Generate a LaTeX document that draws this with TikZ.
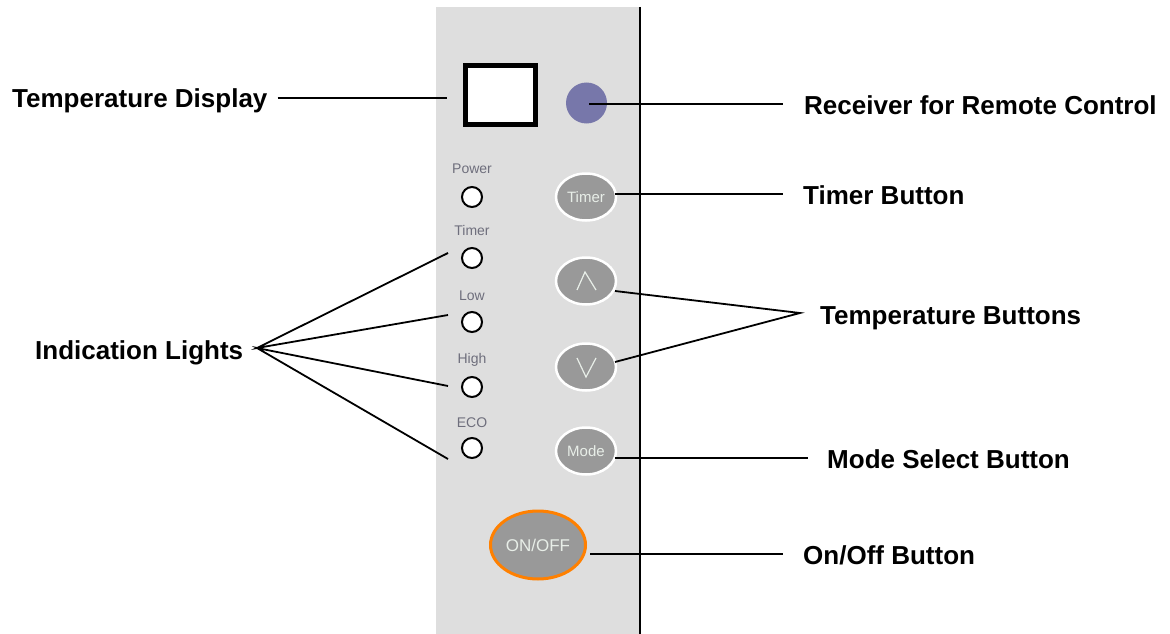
\documentclass[tikz,border=0pt]{standalone}
\usepackage{fontspec}
\setmainfont{Liberation Sans}
\usetikzlibrary{shapes.geometric}
\definecolor{panelgray}{HTML}{DEDEDE}
\definecolor{recvblue}{HTML}{7777AA}
\definecolor{btngray}{HTML}{999999}
\definecolor{onorange}{HTML}{FF8000}
\definecolor{labgray}{HTML}{6E6E7C}
\definecolor{btntext}{HTML}{E8EEE8}
\begin{document}
\begin{tikzpicture}[x=1pt,y=-1pt,
  lbl/.style={font=\fontsize{26}{30}\selectfont\bfseries, inner sep=0pt, text height=18.6pt, text depth=0pt, anchor=west},
  lead/.style={line width=1.8pt, black},
  small/.style={font=\fontsize{14}{16}\selectfont, text=labgray, inner sep=0pt, text height=10pt, text depth=0pt},
  lamp/.style={circle, draw=black, fill=white, line width=2pt, minimum size=20pt, inner sep=0pt},
  btn/.style={ellipse, fill=btngray, draw=white, line width=2.5pt, minimum width=60pt, minimum height=47pt, inner sep=0pt, text=btntext, font=\fontsize{15}{16}\selectfont},
  chev/.style={draw=btntext, line width=1.2pt}
]
\useasboundingbox (0,0) rectangle (1170,634);
% panel
\fill[panelgray] (436,7) rectangle (640,634);
\draw[line width=2pt] (640,7) -- (640,634);
% display and receiver
\node[draw=black, line width=5pt, fill=white, minimum width=70pt, minimum height=59pt, inner sep=0pt] (disp) at (500.5,95) {};
\node[circle, fill=recvblue, minimum size=41pt, inner sep=0pt] (recv) at (586.5,103) {};
% lamp labels and lamps
\node[small] (lpower) at (472,168) {Power};
\node[lamp] (power) at (472,197) {};
\node[small] (ltimer) at (472,230) {Timer};
\node[lamp] (ltim) at (472,258) {};
\node[small] (llow) at (472,295) {Low};
\node[lamp] (low) at (472,322) {};
\node[small] (lhigh) at (472,358) {High};
\node[lamp] (high) at (472,387) {};
\node[small] (leco) at (472,422) {ECO};
\node[lamp] (eco) at (472,448) {};
% buttons
\node[btn] (tbtn) at (586,197) {Timer};
\node[btn] (up) at (586,281) {};
\node[btn] (down) at (586,367) {};
\node[btn] (mode) at (586,451) {Mode};
\draw[chev] ([shift={(-9,9)}]up.center) -- ([shift={(-1,-9)}]up.center) -- ([shift={(10,9)}]up.center);
\draw[chev] ([shift={(-9,-9)}]down.center) -- ([shift={(0,10)}]down.center) -- ([shift={(10,-9)}]down.center);
\node[ellipse, fill=btngray, draw=onorange, line width=3pt, minimum width=95pt, minimum height=68pt, inner sep=0pt, text=btntext, font=\fontsize{17}{18}\selectfont] (onoff) at (538,545) {ON/OFF};
% labels
\node[lbl] (tdisp) at (12,98) {Temperature Display};
\node[lbl] (trecv) at (804,105) {Receiver for Remote Control};
\node[lbl] (ttimer) at (803,195) {Timer Button};
\node[lbl] (ttemp) at (820,315) {Temperature Buttons};
\node[lbl] (tind) at (35,350) {Indication Lights};
\node[lbl] (tmode) at (827,459) {Mode Select Button};
\node[lbl] (tonoff) at (803,555) {On/Off Button};
% connector end points
\coordinate (c-disp) at (447,98);
\coordinate (c-recv) at (589,104);
\coordinate (c-tbtn) at (615,194);
\coordinate (c-up) at (615,291);
\coordinate (c-down) at (615,362);
\coordinate (c-mode) at (615,458);
\coordinate (c-onoff) at (590,554);
\coordinate (c-ltim) at (448,253);
\coordinate (c-low) at (448,315);
\coordinate (c-high) at (448,386);
\coordinate (c-eco) at (448,459);
\coordinate (v-temp) at (800,313);
\coordinate (v-ind) at (257,348);
% connectors
\draw[lead] ([xshift=10pt]tdisp.east) -- (c-disp);
\draw[lead] (c-recv) -- ([xshift=-21pt]trecv.west |- c-recv);
\draw[lead] (c-tbtn) -- ([xshift=-20pt]ttimer.west |- c-tbtn);
\draw[lead] (c-up) -- (v-temp) -- (c-down);
\draw[lead] (c-mode) -- ([xshift=-19pt]tmode.west |- c-mode);
\draw[lead] (c-onoff) -- ([xshift=-20pt]tonoff.west |- c-onoff);
\draw[lead] (c-ltim) -- (v-ind) -- (c-low);
\draw[lead] (c-high) -- (v-ind) -- (c-eco);
\end{tikzpicture}
\end{document}
